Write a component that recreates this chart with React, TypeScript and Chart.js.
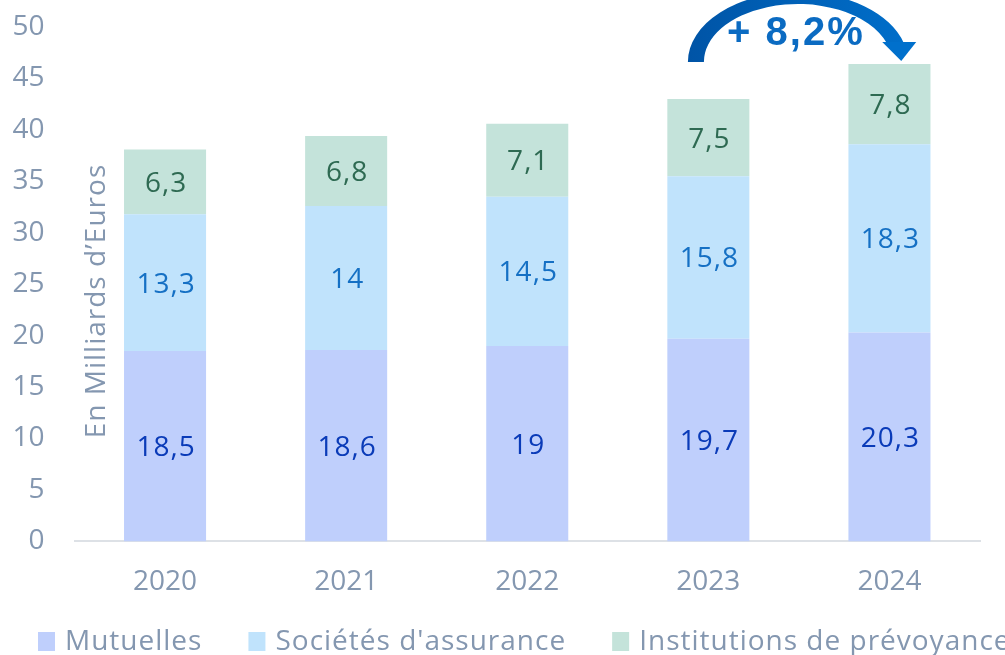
import React, { useEffect, useRef } from "react";
import { Chart, registerables } from "chart.js";

Chart.register(...registerables);

const years = ["2020", "2021", "2022", "2023", "2024"];
const mutuelles = [18.5, 18.6, 19, 19.7, 20.3];
const societes = [13.3, 14, 14.5, 15.8, 18.3];
const institutions = [6.3, 6.8, 7.1, 7.5, 7.8];
const seriesLabels = ["Mutuelles", "Sociétés d'assurance", "Institutions de prévoyance"];
const yMin = 0;
const yMax = 50;
const yStep = 5;
const yTitle = "En Milliards d\u2019Euros";
const growthLabel = "+ 8,2%";

const FONT = "'Open Sans', sans-serif";
const GREY = "#8497B0";
const fillColors = ["#BFCFFC", "#C0E3FC", "#C4E3DA"];
const labelColors = ["#0A3BB8", "#1570C4", "#2E6A52"];

const fmt = (v: number) => String(v).replace(".", ",");

const customPlugin = {
  id: "custom",
  afterDatasetsDraw(chart: any) {
    const ctx = chart.ctx;
    ctx.save();
    ctx.font = `28px ${FONT}`;
    (ctx as any).letterSpacing = "1px";
    ctx.textAlign = "center";
    ctx.textBaseline = "alphabetic";
    chart.data.datasets.forEach((ds: any, di: number) => {
      const meta = chart.getDatasetMeta(di);
      meta.data.forEach((bar: any, i: number) => {
        const cy = (bar.y + bar.base) / 2;
        ctx.fillStyle = labelColors[di];
        ctx.fillText(fmt(ds.data[i]), bar.x + 1, cy + 10);
      });
    });
    ctx.restore();
  },
  afterDraw(chart: any) {
    const ctx = chart.ctx;
    // y title
    ctx.save();
    ctx.font = `28px ${FONT}`;
    (ctx as any).letterSpacing = "1px";
    ctx.fillStyle = GREY;
    ctx.textAlign = "center";
    ctx.textBaseline = "middle";
    ctx.translate(97, 301);
    ctx.rotate(-Math.PI / 2);
    ctx.fillText(yTitle, 0, 0);
    ctx.restore();

    // legend
    ctx.save();
    ctx.font = `28px ${FONT}`;
    (ctx as any).letterSpacing = "1px";
    ctx.textBaseline = "alphabetic";
    ctx.textAlign = "left";
    let x = 38;
    chart.data.datasets.forEach((ds: any, di: number) => {
      ctx.fillStyle = fillColors[di];
      ctx.fillRect(x, 632, 17, 19);
      x += 27;
      ctx.fillStyle = GREY;
      ctx.fillText(ds.label, x, 650);
      x += ctx.measureText(ds.label).width + 46;
    });
    ctx.restore();

    // growth arrow
    const xs = chart.scales.x;
    const c3 = xs.getPixelForValue(3);
    const c4 = xs.getPixelForValue(4);
    const cx = (c3 + c4) / 2 - 1;
    const cy = 62;
    ctx.save();
    const grad = ctx.createLinearGradient(c3 - 20, 0, c4 + 30, 0);
    grad.addColorStop(0, "#0054A6");
    grad.addColorStop(1, "#0070CC");
    ctx.fillStyle = grad;
    const oRx = 110, oRy = 70, iRx = 94, iRy = 58;
    const endY = 43;
    const aO = 2 * Math.PI - Math.asin((cy - endY) / oRy);
    const aI = 2 * Math.PI - Math.asin((cy - endY) / iRy);
    ctx.beginPath();
    ctx.ellipse(cx, cy, oRx, oRy, 0, Math.PI, aO, false);
    ctx.ellipse(cx, cy, iRx, iRy, 0, aI, Math.PI, true);
    ctx.closePath();
    ctx.fill();
    // arrowhead
    const midX = (cx + oRx * Math.cos(aO) + cx + iRx * Math.cos(aI)) / 2;
    ctx.beginPath();
    ctx.moveTo(midX - 13, endY - 1);
    ctx.lineTo(midX + 21, endY - 1);
    ctx.lineTo(midX + 6, 61);
    ctx.closePath();
    ctx.fillStyle = "#0070CC";
    ctx.fill();
    // label
    ctx.font = `bold 40px 'Liberation Sans', Arial, sans-serif`;
    (ctx as any).letterSpacing = "2px";
    ctx.fillStyle = "#0B6BC2";
    ctx.textAlign = "center";
    ctx.textBaseline = "alphabetic";
    ctx.fillText(growthLabel, cx - 2, 45);
    ctx.restore();
  },
};

export default function App() {
  const ref = useRef<HTMLCanvasElement | null>(null);
  useEffect(() => {
    document.body.style.margin = "0";
    const canvas = ref.current!;
    const chart = new Chart(canvas, {
      type: "bar",
      data: {
        labels: years,
        datasets: [
          { label: seriesLabels[0], data: mutuelles, backgroundColor: fillColors[0] },
          { label: seriesLabels[1], data: societes, backgroundColor: fillColors[1] },
          { label: seriesLabels[2], data: institutions, backgroundColor: fillColors[2] },
        ],
      },
      options: {
        responsive: false,
        animation: false,
        devicePixelRatio: 1,
        datasets: { bar: { categoryPercentage: 1, barPercentage: 0.453 } },
        layout: { padding: { top: 27, right: 25, bottom: 32, left: 0 } },
        plugins: { legend: { display: false }, tooltip: { enabled: false } },
        scales: {
          x: {
            stacked: true,
            grid: { display: false, drawTicks: false },
            border: { display: true, color: "#DDE1E6", width: 2 },
            ticks: { color: GREY, font: { family: FONT, size: 28 }, padding: 24 },
            afterFit(scale: any) {
              scale.paddingLeft = 0;
              scale.paddingRight = 0;
            },
          },
          y: {
            stacked: true,
            min: yMin,
            max: yMax,
            grid: { display: false, drawTicks: false },
            border: { display: false },
            ticks: { stepSize: yStep, color: GREY, font: { family: FONT, size: 28 }, padding: 30 },
            afterFit(scale: any) {
              scale.width = 74.5;
              scale.paddingTop = 0;
              scale.paddingBottom = 0;
            },
          },
        },
      } as any,
      plugins: [customPlugin],
    });
    return () => chart.destroy();
  }, []);
  return (
    <div style={{ width: 1005, height: 655, overflow: "hidden" }}>
      <canvas ref={ref} width={1005} height={655} style={{ width: 1005, height: 655 }} />
    </div>
  );
}
